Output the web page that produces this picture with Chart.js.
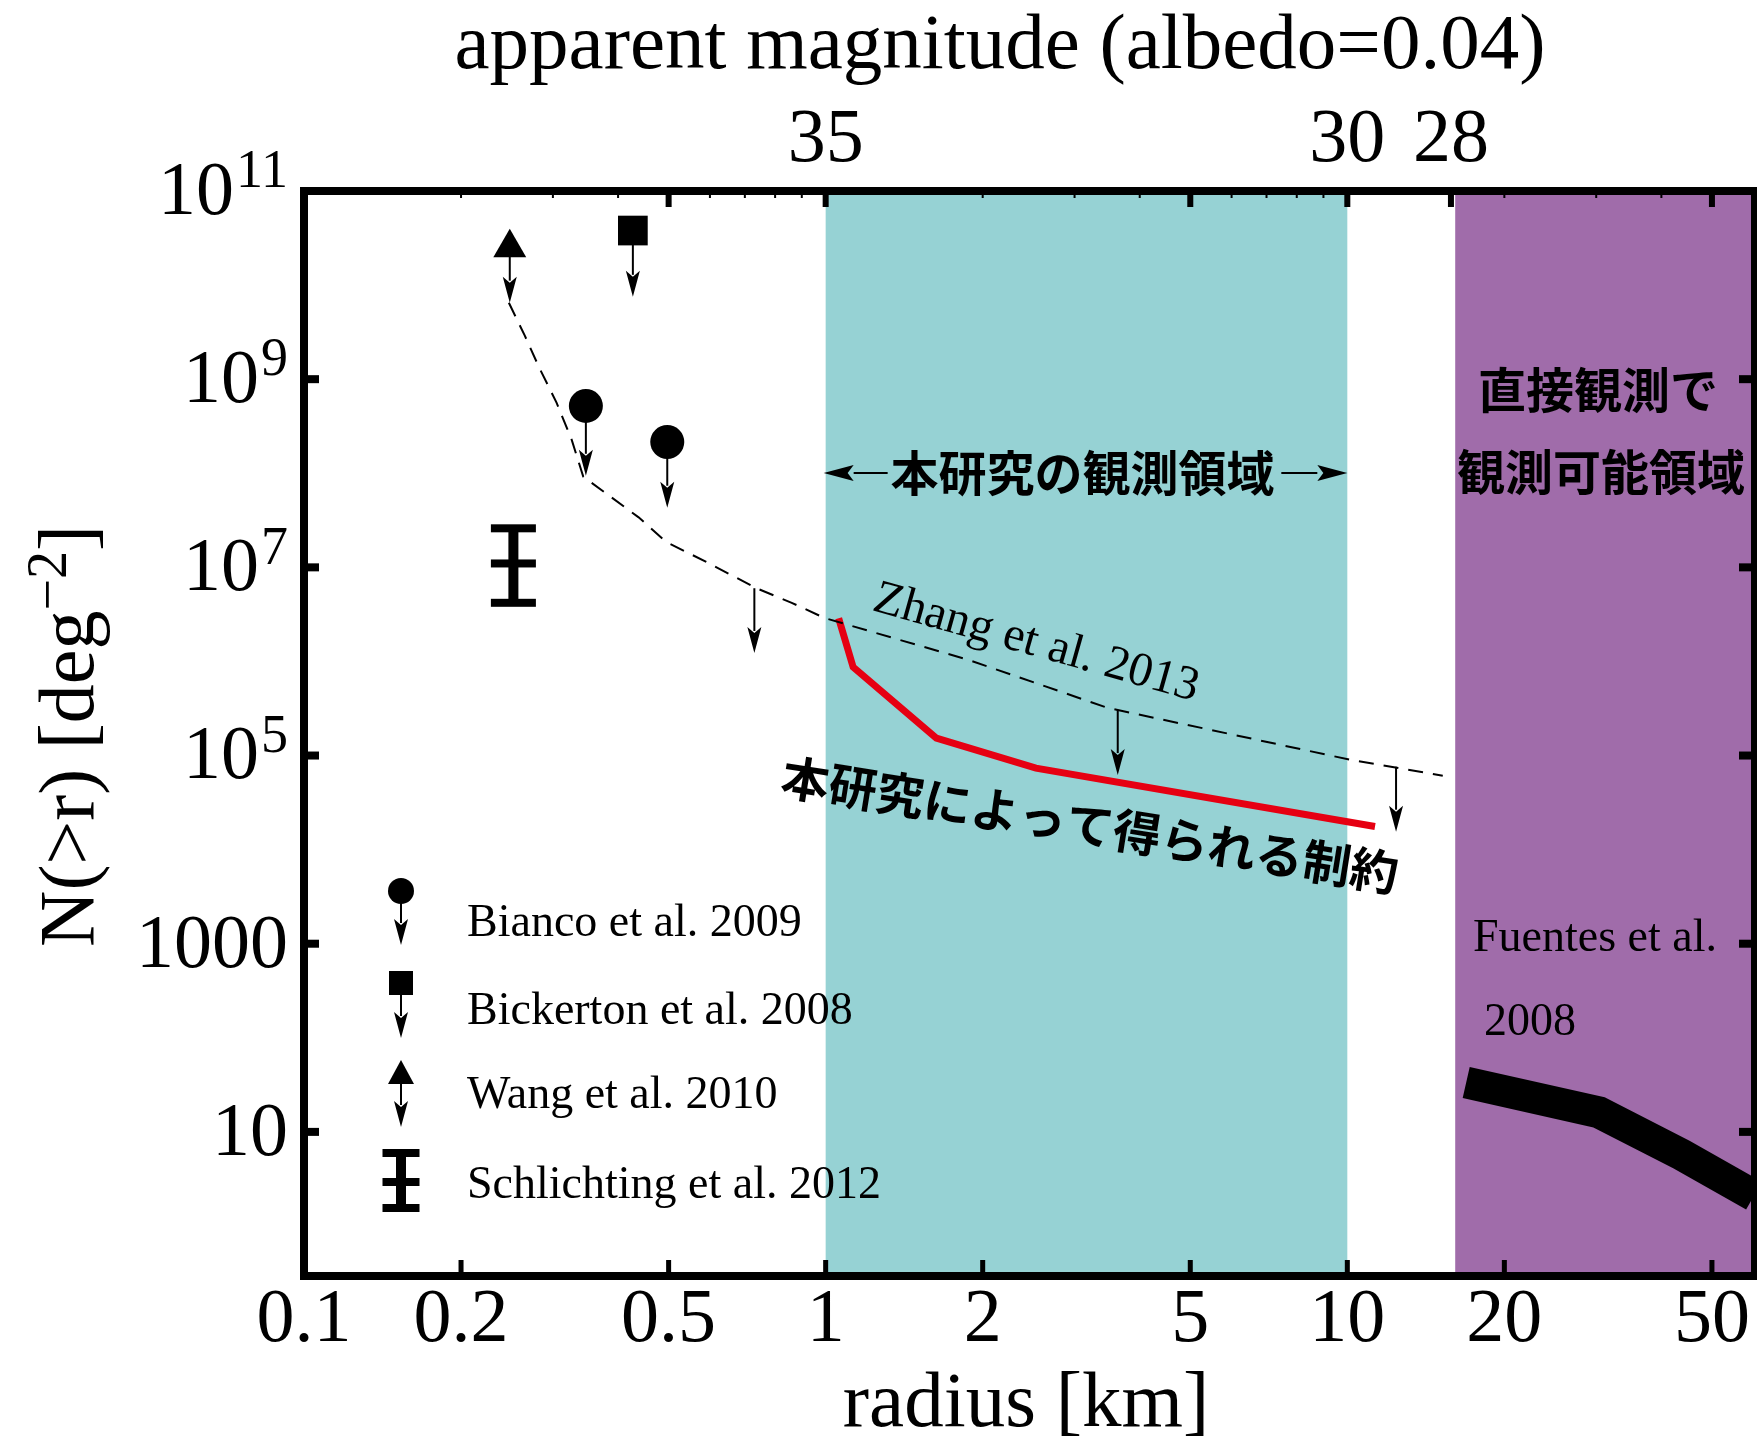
<!DOCTYPE html>
<html>
<head>
<meta charset="utf-8">
<script src="https://cdn.jsdelivr.net/npm/chart.js@4.4.1/dist/chart.umd.min.js"></script>
<style>
html, body { margin: 0; padding: 0; background: #fff; overflow: hidden; }
#wrap { width: 1763px; height: 1455px; position: relative; }
</style>
</head>
<body>
<div id="wrap"><canvas id="kboChart" width="1763" height="1455"></canvas></div>
<script>
// axes
const xTicks = [0.1, 0.2, 0.5, 1, 2, 5, 10, 20, 50];
const xTickLabels = ['0.1', '0.2', '0.5', '1', '2', '5', '10', '20', '50'];
const yTicks = [1e11, 1e9, 1e7, 1e5, 1000, 10];
const yTickBase = ['10', '10', '10', '10', '1000', '10'];
const yTickExp = ['11', '9', '7', '5', '', ''];
const magTickR = [1, 10, 15.8];
const magTickLabels = ['35', '30', '28'];
const topMajorR = [0.5, 1, 5, 10, 15.8, 50];

// shaded ranges (radius km)
const studyRange = [1, 10];
const directRange = [16.1, 60.2];

// Zhang et al. 2013 (dashed)
const zhangR = [0.247, 0.265, 0.282, 0.305, 0.326, 0.343, 0.438, 0.494, 0.589, 0.734, 0.861, 0.994, 1.877, 3.48, 10.15, 15.24];
const zhangN = [6.5e9, 2.9e9, 1.35e9, 5.6e8, 2.26e8, 9.2e7, 3.4e7, 1.87e7, 1.15e7, 6.05e6, 4.2e6, 2.9e6, 1.04e6, 3.2e5, 9.0e4, 6.1e4];
const zhangArrowR = [0.73, 3.63, 12.4];
const zhangArrowTop = [6.0e6, 3.05e5, 7.6e4];
const zhangArrowTip = [1.23e6, 6.2e4, 1.55e4];

// this work (red)
const thisWorkR = [1.059, 1.129, 1.63, 2.53, 11.3];
const thisWorkN = [2.88e6, 8.7e5, 1.53e5, 7.35e4, 1.76e4];

// Fuentes et al. 2008
const fuentesR = [16.9, 30.4, 43.8, 60.2];
const fuentesN = [33.5, 16.1, 5.7, 2.1];

// upper limits
const biancoR = [0.347, 0.497];
const biancoN = [5.2e8, 2.15e8];
const biancoLim = [9.4e7, 4.3e7];
const bickertonR = [0.427];
const bickertonN = [3.8e10];
const bickertonLim = [7.5e9];
const wangR = [0.248];
const wangN = [2.5e10];
const wangLim = [6.5e9];
const schlichtingR = [0.252];
const schlichtingN = [1.1e7];
const schlichtingLo = [4.2e6];
const schlichtingHi = [2.6e7];

const legendNames = ['Bianco et al. 2009', 'Bickerton et al. 2008', 'Wang et al. 2010', 'Schlichting et al. 2012'];

const SERIF = '"Liberation Serif", "DejaVu Serif", serif';
const JP = '"Noto Sans CJK JP", sans-serif';

function pts(xs, ys) {
    return xs.map((x, i) => ({ x: x, y: ys[i] }));
}

function arrowDown(ctx, x, y0, y1) {
    const head = 26, half = 7;
    ctx.save();
    ctx.strokeStyle = '#000';
    ctx.fillStyle = '#000';
    ctx.lineWidth = 2;
    ctx.beginPath();
    ctx.moveTo(x, y0);
    ctx.lineTo(x, y1 - head + 4);
    ctx.stroke();
    ctx.beginPath();
    ctx.moveTo(x - half, y1 - head);
    ctx.lineTo(x, y1 - head + 6);
    ctx.lineTo(x + half, y1 - head);
    ctx.lineTo(x, y1);
    ctx.closePath();
    ctx.fill();
    ctx.restore();
}

function arrowH(ctx, x0, x1, y) {
    const head = 30, half = 8;
    const dir = x1 > x0 ? 1 : -1;
    ctx.save();
    ctx.lineWidth = 2;
    ctx.beginPath();
    ctx.moveTo(x0, y);
    ctx.lineTo(x1 - dir * head, y);
    ctx.stroke();
    ctx.beginPath();
    ctx.moveTo(x1 - dir * head, y - half);
    ctx.lineTo(x1 - dir * (head - 6), y);
    ctx.lineTo(x1 - dir * head, y + half);
    ctx.lineTo(x1, y);
    ctx.closePath();
    ctx.fill();
    ctx.restore();
}

function errorBar(ctx, x, yHi, yMid, yLo, capW) {
    ctx.fillRect(x - 5, yHi, 10, yLo - yHi);
    [yHi, yMid, yLo].forEach(y => ctx.fillRect(x - capW / 2, y - 4, capW, 8));
}

const shading = {
    id: 'shading',
    beforeDatasetsDraw(chart) {
        const { ctx, chartArea: ca, scales: { x } } = chart;
        ctx.save();
        ctx.fillStyle = '#96d2d4';
        ctx.fillRect(x.getPixelForValue(studyRange[0]), ca.top, x.getPixelForValue(studyRange[1]) - x.getPixelForValue(studyRange[0]), ca.bottom - ca.top);
        ctx.fillStyle = '#a06caa';
        ctx.fillRect(x.getPixelForValue(directRange[0]), ca.top, x.getPixelForValue(directRange[1]) - x.getPixelForValue(directRange[0]), ca.bottom - ca.top);
        ctx.restore();
    }
};

const limits = {
    id: 'limits',
    afterDatasetsDraw(chart) {
        const { ctx, scales: { x, y } } = chart;
        ctx.save();
        ctx.fillStyle = '#000';
        biancoR.forEach((r, i) => arrowDown(ctx, x.getPixelForValue(r), y.getPixelForValue(biancoN[i]), y.getPixelForValue(biancoLim[i])));
        bickertonR.forEach((r, i) => arrowDown(ctx, x.getPixelForValue(r), y.getPixelForValue(bickertonN[i]), y.getPixelForValue(bickertonLim[i])));
        wangR.forEach((r, i) => arrowDown(ctx, x.getPixelForValue(r), y.getPixelForValue(wangN[i]) + 8, y.getPixelForValue(wangLim[i])));
        zhangArrowR.forEach((r, i) => arrowDown(ctx, x.getPixelForValue(r), y.getPixelForValue(zhangArrowTop[i]), y.getPixelForValue(zhangArrowTip[i])));
        schlichtingR.forEach((r, i) => errorBar(ctx, x.getPixelForValue(r), y.getPixelForValue(schlichtingHi[i]),
            y.getPixelForValue(schlichtingN[i]), y.getPixelForValue(schlichtingLo[i]), 45));
        ctx.restore();
    }
};

const frame = {
    id: 'frame',
    afterDraw(chart) {
        const { ctx, chartArea: ca, scales: { x, y } } = chart;
        ctx.save();
        ctx.fillStyle = '#000';
        ctx.strokeStyle = '#000';

        // texts inside plot
        ctx.font = 'bold 48px ' + JP;
        ctx.textAlign = 'center';
        ctx.textBaseline = 'middle';
        const sx0 = x.getPixelForValue(studyRange[0]), sx1 = x.getPixelForValue(studyRange[1]);
        ctx.fillText('本研究の観測領域', (sx0 + sx1) / 2 - 4, 473);
        arrowH(ctx, sx0 + 62, sx0 - 2, 473);
        arrowH(ctx, sx1 - 66, sx1, 473);
        ctx.fillText('直接観測で', 1598, 390);
        ctx.fillText('観測可能領域', 1601, 472);

        ctx.save();
        ctx.translate(1090, 825);
        ctx.rotate(9.1 * Math.PI / 180);
        ctx.fillText('本研究によって得られる制約', 0, 0);
        ctx.restore();

        ctx.save();
        ctx.font = '48px ' + SERIF;
        ctx.textAlign = 'left';
        ctx.textBaseline = 'alphabetic';
        ctx.translate(871, 610);
        ctx.rotate(15.7 * Math.PI / 180);
        ctx.fillText('Zhang et al. 2013', 0, 0);
        ctx.restore();

        ctx.font = '46px ' + SERIF;
        ctx.textAlign = 'left';
        ctx.fillText('Fuentes et al.', 1473, 939);
        ctx.fillText('2008', 1484, 1023);

        // legend
        const lx = 401;
        const rows = [924, 1012, 1096, 1186];
        legendNames.forEach((t, i) => ctx.fillText(t, 467, rows[i]));
        ctx.beginPath(); ctx.arc(lx, 891, 13, 0, Math.PI * 2); ctx.fill();
        arrowDown(ctx, lx, 891, 945);
        ctx.fillRect(lx - 12, 971, 24, 24);
        arrowDown(ctx, lx, 990, 1038);
        ctx.beginPath(); ctx.moveTo(lx, 1060); ctx.lineTo(lx + 13, 1084); ctx.lineTo(lx - 13, 1084); ctx.closePath(); ctx.fill();
        arrowDown(ctx, lx, 1082, 1127);
        errorBar(ctx, lx, 1153, 1182, 1208, 37);

        // frame
        ctx.lineWidth = 8;
        ctx.beginPath();
        ctx.moveTo(ca.left, ca.top); ctx.lineTo(ca.left, ca.bottom);
        ctx.moveTo(ca.left - 4, ca.bottom); ctx.lineTo(ca.right + 3, ca.bottom);
        ctx.moveTo(ca.left - 4, ca.top); ctx.lineTo(ca.right + 3, ca.top);
        ctx.stroke();
        ctx.lineWidth = 6;
        ctx.beginPath();
        ctx.moveTo(ca.right, ca.top); ctx.lineTo(ca.right, ca.bottom);
        ctx.stroke();

        // bottom ticks
        xTicks.forEach(v => {
            const px = x.getPixelForValue(v);
            if (v > 0.1) ctx.fillRect(px - 2.5, ca.bottom - 16, 5, 16);
        });
        // top ticks (mirrored minor + magnitude majors)
        for (let d = -1; d <= 1; d++) {
            for (let m = 2; m <= 9; m++) {
                const v = m * Math.pow(10, d);
                if (v > directRange[1]) continue;
                ctx.fillRect(x.getPixelForValue(v) - 1, ca.top, 2, 7);
            }
        }
        topMajorR.forEach(v => ctx.fillRect(x.getPixelForValue(v) - 3, ca.top, 6, 16));
        // left and right ticks
        yTicks.forEach(v => {
            const py = y.getPixelForValue(v);
            if (v >= 1e11) return;
            ctx.fillRect(ca.left, py - 4, 15, 8);
            ctx.fillRect(ca.right - 15, py - 4, 15, 8);
        });

        // tick labels
        ctx.font = '76px ' + SERIF;
        ctx.textAlign = 'center';
        ctx.textBaseline = 'middle';
        xTicks.forEach((v, i) => ctx.fillText(xTickLabels[i], x.getPixelForValue(v), 1321));
        magTickR.forEach((v, i) => ctx.fillText(magTickLabels[i], x.getPixelForValue(v), 141));

        const right = 288;
        yTicks.forEach((v, i) => {
            const py = y.getPixelForValue(v);
            ctx.textAlign = 'right';
            if (yTickExp[i]) {
                ctx.font = '54px ' + SERIF;
                const w = ctx.measureText(yTickExp[i]).width;
                ctx.textAlign = 'left';
                ctx.fillText(yTickExp[i], right - w, py - 18);
                ctx.font = '76px ' + SERIF;
                ctx.textAlign = 'right';
                ctx.fillText(yTickBase[i], right - w - 2, py + 3);
            } else {
                ctx.font = '76px ' + SERIF;
                ctx.fillText(yTickBase[i], right, py + 3);
            }
        });

        // axis titles
        ctx.font = '79px ' + SERIF;
        ctx.textAlign = 'center';
        ctx.fillText('apparent magnitude (albedo=0.04)', 1000, 47);
        ctx.fillText('radius [km]', 1026, 1405);

        ctx.save();
        ctx.translate(73, 736);
        ctx.rotate(-Math.PI / 2);
        ctx.textAlign = 'left';
        const t1 = 'N(>r) [deg', t2 = '\u22122', t3 = ']';
        ctx.font = '78px ' + SERIF;
        const w1 = ctx.measureText(t1).width, w3 = ctx.measureText(t3).width;
        ctx.font = '56px ' + SERIF;
        const w2 = ctx.measureText(t2).width;
        let sx = -(w1 + w2 + w3) / 2;
        ctx.font = '78px ' + SERIF;
        ctx.fillText(t1, sx, 0);
        ctx.font = '56px ' + SERIF;
        ctx.fillText(t2, sx + w1, -22);
        ctx.font = '78px ' + SERIF;
        ctx.fillText(t3, sx + w1 + w2, 0);
        ctx.restore();

        ctx.restore();
    }
};

const ctx = document.getElementById('kboChart').getContext('2d');
new Chart(ctx, {
    type: 'scatter',
    data: {
        datasets: [
            {
                label: 'Zhang et al. 2013',
                data: pts(zhangR, zhangN),
                showLine: true,
                borderColor: '#000',
                borderWidth: 2,
                borderDash: [15, 10],
                pointRadius: 0,
                tension: 0
            },
            {
                label: 'this work',
                data: pts(thisWorkR, thisWorkN),
                showLine: true,
                borderColor: '#e60012',
                borderWidth: 7,
                pointRadius: 0,
                borderJoinStyle: 'miter'
            },
            {
                label: 'Fuentes et al. 2008',
                data: pts(fuentesR, fuentesN),
                showLine: true,
                borderColor: '#000',
                borderWidth: 32,
                borderCapStyle: 'butt',
                borderJoinStyle: 'miter',
                pointRadius: 0
            },
            {
                label: 'Bianco et al. 2009',
                data: pts(biancoR, biancoN),
                pointStyle: 'circle',
                pointRadius: 17,
                backgroundColor: '#000',
                borderWidth: 0
            },
            {
                label: 'Bickerton et al. 2008',
                data: pts(bickertonR, bickertonN),
                pointStyle: 'rect',
                pointRadius: 21,
                backgroundColor: '#000',
                borderWidth: 0
            },
            {
                label: 'Wang et al. 2010',
                data: pts(wangR, wangN),
                pointStyle: 'triangle',
                pointRadius: 19,
                backgroundColor: '#000',
                borderWidth: 0
            }
        ]
    },
    options: {
        responsive: false,
        animation: false,
        layout: { autoPadding: false, padding: { left: 304, right: 9, top: 191, bottom: 179 } },
        scales: {
            x: { type: 'logarithmic', min: 0.1, max: 60.2, display: false },
            y: { type: 'logarithmic', min: 0.294, max: 1e11, display: false }
        },
        plugins: {
            legend: { display: false },
            tooltip: { enabled: false }
        }
    },
    plugins: [shading, limits, frame]
});
</script>
</body>
</html>
